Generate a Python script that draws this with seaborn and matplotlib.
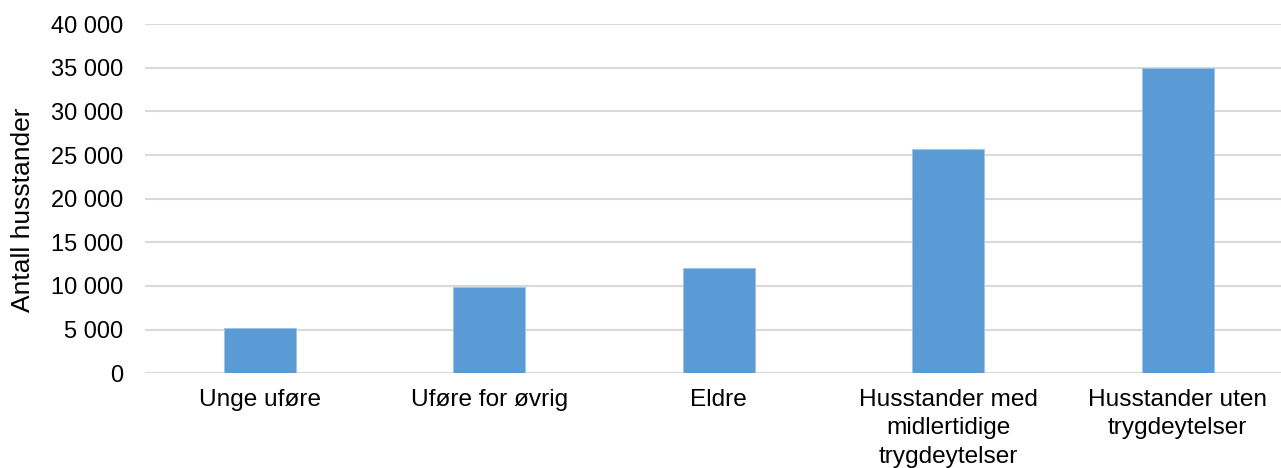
import matplotlib
matplotlib.use("Agg")
import matplotlib.pyplot as plt
import seaborn as sns
import pandas as pd

categories = [
    "Unge uføre",
    "Uføre for øvrig",
    "Eldre",
    "Husstander med\nmidlertidige\ntrygdeytelser",
    "Husstander uten\ntrygdeytelser",
]
values = [5200, 9900, 12100, 25700, 34950]
yticks = list(range(0, 40001, 5000))

df = pd.DataFrame({"kategori": categories, "antall": values})

sns.set_theme(style="white")
plt.rcParams["font.family"] = ["Liberation Sans", "DejaVu Sans"]

fig = plt.figure(figsize=(12.81, 4.68), dpi=100)
ax = fig.add_axes([0.1132, 0.2023, 0.8868, 0.7464])

sns.barplot(data=df, x="kategori", y="antall", color="#5B9BD5",
            width=0.314, saturation=1, edgecolor="#9DC3E6", linewidth=0.6,
            ax=ax, zorder=3)

ax.set_ylim(0, 40000)
ax.set_xlim(-0.5, 4.45)
ax.set_yticks(yticks)
ax.set_yticklabels([f"{v:,}".replace(",", " ") for v in yticks])
ax.yaxis.grid(True, color="#D9D9D9", linewidth=1.5, zorder=0)
ax.set_axisbelow(True)
for s in ax.spines.values():
    s.set_visible(False)
ax.axhline(0, color="#D9D9D9", linewidth=1.5, zorder=1)

ax.tick_params(axis="y", length=0, pad=16, labelsize=17, labelcolor="black")
ax.tick_params(axis="x", length=0, pad=11, labelsize=17.6, labelcolor="black")
for lbl in ax.get_xticklabels():
    lbl.set_linespacing(1.38)
ax.set_xlabel("")
ax.set_ylabel("Antall husstander", fontsize=19, color="black")
ax.yaxis.set_label_coords(-0.097, 0.4675)

fig.savefig("out.png", dpi=100)
